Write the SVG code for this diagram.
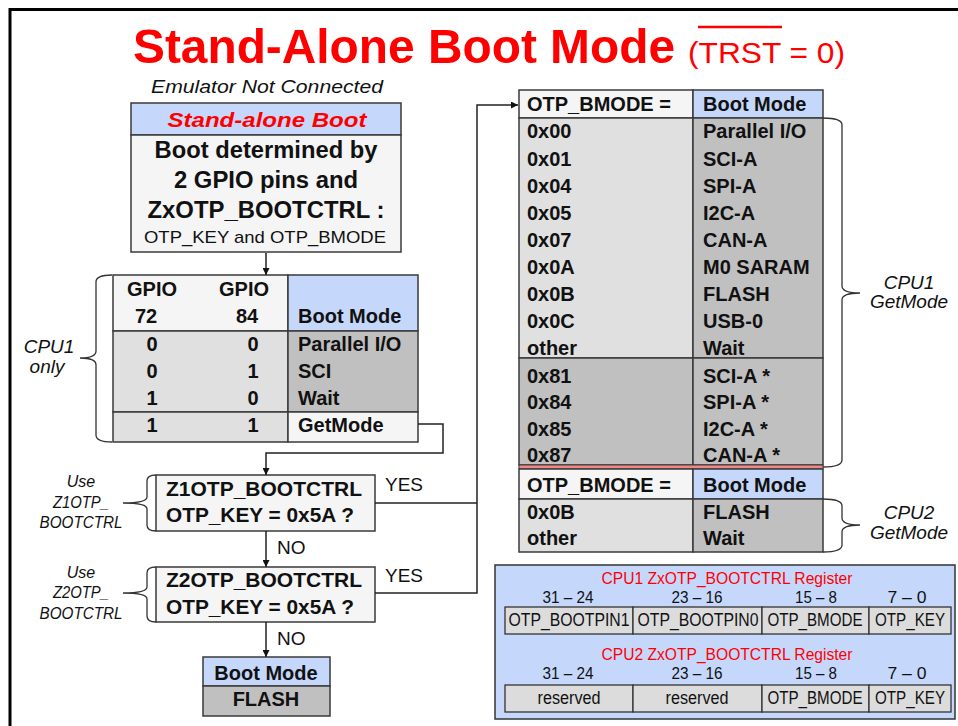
<svg xmlns="http://www.w3.org/2000/svg" width="958" height="726" viewBox="0 0 958 726">
<style>
text{font-family:"Liberation Sans",Arial,sans-serif;fill:#111}
.b{font-weight:bold}
.i{font-style:italic}
.c{text-anchor:middle}
.red{fill:#ff0000}
.cell{stroke:#3a3a3a;stroke-width:1.5}
.blue{fill:#c5d8fc}
.lt{fill:#f5f5f5}
.g1{fill:#e0e0e0}
.g2{fill:#c0c0c0}
.rg{fill:#dcdcdc;stroke:#333;stroke-width:1.3}
.conn{fill:none;stroke:#222;stroke-width:1.5}
.brace{fill:none;stroke:#333;stroke-width:1.3}
.t20{font-size:20px}
.t21{font-size:21px}
.reg{font-size:18px}
.rt{font-size:16px}
.bits{font-size:16px}
</style>
<defs>
<marker id="ah" viewBox="0 0 10 10" refX="10" refY="5" markerWidth="7" markerHeight="7" markerUnits="userSpaceOnUse" orient="auto"><path d="M0,0 L10,5 L0,10 z" fill="#111"/></marker>
</defs>

<path d="M10,726 L10,9.5 L958,9.5" fill="none" stroke="#000" stroke-width="3"/>

<g id="title">
<text x="133" y="63" font-size="49" class="b red" textLength="542" lengthAdjust="spacingAndGlyphs">Stand-Alone Boot Mode</text>
<text x="688" y="63" font-size="30" class="red" textLength="157" lengthAdjust="spacingAndGlyphs">(TRST = 0)</text>
<line x1="698" y1="27" x2="782" y2="27" stroke="#ff0000" stroke-width="2.5"/>
<text x="267" y="93" font-size="19" class="i c" textLength="232" lengthAdjust="spacingAndGlyphs">Emulator Not Connected</text>
</g>

<g id="standalone">
<rect x="131" y="103" width="270" height="32" class="cell blue"/>
<rect x="131" y="135" width="270" height="117" class="cell lt"/>
<text x="267" y="127" font-size="21" class="b i c red" textLength="199" lengthAdjust="spacingAndGlyphs">Stand-alone Boot</text>
<text x="266" y="158" font-size="23" class="b c" textLength="223" lengthAdjust="spacingAndGlyphs">Boot determined by</text>
<text x="266" y="188" font-size="23" class="b c" textLength="184" lengthAdjust="spacingAndGlyphs">2 GPIO pins and</text>
<text x="266" y="218" font-size="23" class="b c" textLength="237" lengthAdjust="spacingAndGlyphs">ZxOTP_BOOTCTRL :</text>
<text x="265" y="243" font-size="17" class="c" textLength="242" lengthAdjust="spacingAndGlyphs">OTP_KEY and OTP_BMODE</text>
</g>

<g id="gpio-table">
<rect x="113" y="275" width="175" height="56" class="cell lt"/>
<rect x="288" y="275" width="130" height="56" class="cell blue"/>
<rect x="113" y="331" width="175" height="81" class="cell g1"/>
<rect x="288" y="331" width="130" height="81" class="cell g2"/>
<rect x="113" y="412" width="175" height="30" class="cell g1"/>
<rect x="288" y="412" width="130" height="30" class="cell lt"/>
<g class="b t20">
<text x="152" y="296" class="c">GPIO</text>
<text x="146" y="323" class="c">72</text>
<text x="244" y="296" class="c">GPIO</text>
<text x="247" y="323" class="c">84</text>
<text x="298" y="323">Boot Mode</text>
<text x="152" y="351" class="c">0</text><text x="253" y="351" class="c">0</text><text x="298" y="351">Parallel I/O</text>
<text x="152" y="378" class="c">0</text><text x="253" y="378" class="c">1</text><text x="298" y="378">SCI</text>
<text x="152" y="405" class="c">1</text><text x="253" y="405" class="c">0</text><text x="298" y="405">Wait</text>
<text x="152" y="432" class="c">1</text><text x="253" y="432" class="c">1</text><text x="298" y="432">GetMode</text>
</g>
</g>

<g id="cpu1-only">
<path class="brace" d="M112,275 Q96,275 96,282 L96,351 Q96,358 80,358 Q96,358 96,365 L96,435 Q96,442 112,442"/>
<text x="49" y="353" font-size="19" class="i c">CPU1</text>
<text x="47" y="373" font-size="19" class="i c">only</text>
</g>

<g id="z1">
<rect x="156" y="475" width="219" height="56" class="cell lt"/>
<text x="264" y="496" class="b c t21" textLength="196" lengthAdjust="spacingAndGlyphs">Z1OTP_BOOTCTRL</text>
<text x="260" y="522" class="b c t21" textLength="188" lengthAdjust="spacingAndGlyphs">OTP_KEY = 0x5A ?</text>
<path class="brace" d="M156,475 Q147,475 147,481 L147,497 Q147,503 123,503 Q147,503 147,509 L147,525 Q147,531 156,531"/>
<text x="81" y="487" font-size="16" class="i c">Use</text>
<text x="81" y="508" font-size="16" class="i c" textLength="56" lengthAdjust="spacingAndGlyphs">Z1OTP_</text>
<text x="81" y="528" font-size="16" class="i c" textLength="83" lengthAdjust="spacingAndGlyphs">BOOTCTRL</text>
</g>

<g id="z2">
<rect x="156" y="567" width="219" height="55" class="cell lt"/>
<text x="264" y="587" class="b c t21" textLength="196" lengthAdjust="spacingAndGlyphs">Z2OTP_BOOTCTRL</text>
<text x="260" y="614" class="b c t21" textLength="188" lengthAdjust="spacingAndGlyphs">OTP_KEY = 0x5A ?</text>
<path class="brace" d="M156,567 Q147,567 147,573 L147,587 Q147,593 123,593 Q147,593 147,599 L147,616 Q147,622 156,622"/>
<text x="81" y="578" font-size="16" class="i c">Use</text>
<text x="81" y="598" font-size="16" class="i c" textLength="56" lengthAdjust="spacingAndGlyphs">Z2OTP_</text>
<text x="81" y="619" font-size="16" class="i c" textLength="83" lengthAdjust="spacingAndGlyphs">BOOTCTRL</text>
</g>

<g id="flash-box">
<rect x="203" y="657" width="127" height="29" class="cell blue"/>
<rect x="203" y="686" width="127" height="30" class="cell g2"/>
<text x="266" y="680" class="b c t20">Boot Mode</text>
<text x="266" y="706" class="b c t20">FLASH</text>
</g>

<g id="connectors">
<line x1="266" y1="253" x2="266" y2="275" class="conn" marker-end="url(#ah)"/>
<polyline points="418,424 443,424 443,453 266,453 266,475" class="conn" marker-end="url(#ah)"/>
<line x1="266" y1="531" x2="266" y2="567" class="conn" marker-end="url(#ah)"/>
<line x1="266" y1="622" x2="266" y2="657" class="conn" marker-end="url(#ah)"/>
<polyline points="375,503 477,503" class="conn"/>
<polyline points="375,593 477,593 477,105 518,105" class="conn" marker-end="url(#ah)"/>
<text x="385" y="491" font-size="19">YES</text>
<text x="385" y="582" font-size="19">YES</text>
<text x="277" y="554" font-size="19">NO</text>
<text x="277" y="645" font-size="19">NO</text>
</g>

<g id="bmode-table">
<rect x="519" y="90" width="174" height="28" class="cell lt"/>
<rect x="693" y="90" width="130" height="28" class="cell blue"/>
<rect x="519" y="118" width="174" height="240" class="cell g1"/>
<rect x="693" y="118" width="130" height="240" class="cell g2"/>
<rect x="519" y="358" width="174" height="107" class="cell g2"/>
<rect x="693" y="358" width="130" height="107" class="cell g2"/>
<rect x="519" y="465" width="304" height="4" fill="#f08888" stroke="#3a3a3a" stroke-width="1"/>
<rect x="519" y="469" width="174" height="30" class="cell lt"/>
<rect x="693" y="469" width="130" height="30" class="cell blue"/>
<rect x="519" y="499" width="174" height="53" class="cell g1"/>
<rect x="693" y="499" width="130" height="53" class="cell g2"/>
<g class="b t20">
<text x="527" y="111">OTP_BMODE =</text><text x="703" y="111">Boot Mode</text>
<text x="527" y="138">0x00</text><text x="703" y="138">Parallel I/O</text>
<text x="527" y="166">0x01</text><text x="703" y="166">SCI-A</text>
<text x="527" y="193">0x04</text><text x="703" y="193">SPI-A</text>
<text x="527" y="220">0x05</text><text x="703" y="220">I2C-A</text>
<text x="527" y="247">0x07</text><text x="703" y="247">CAN-A</text>
<text x="527" y="274">0x0A</text><text x="703" y="274">M0 SARAM</text>
<text x="527" y="301">0x0B</text><text x="703" y="301">FLASH</text>
<text x="527" y="328">0x0C</text><text x="703" y="328">USB-0</text>
<text x="527" y="355">other</text><text x="703" y="355">Wait</text>
<text x="527" y="383">0x81</text><text x="703" y="383">SCI-A *</text>
<text x="527" y="409">0x84</text><text x="703" y="409">SPI-A *</text>
<text x="527" y="436">0x85</text><text x="703" y="436">I2C-A *</text>
<text x="527" y="462">0x87</text><text x="703" y="462">CAN-A *</text>
<text x="527" y="492">OTP_BMODE =</text><text x="703" y="492">Boot Mode</text>
<text x="527" y="519">0x0B</text><text x="703" y="519">FLASH</text>
<text x="527" y="545">other</text><text x="703" y="545">Wait</text>
</g>
</g>

<g id="cpu1-getmode">
<path class="brace" d="M823,118 Q842,118 842,125 L842,286 Q842,293 860,293 Q842,293 842,300 L842,460 Q842,467 823,467"/>
<text x="909" y="289" font-size="19" class="i c">CPU1</text>
<text x="909" y="308" font-size="19" class="i c">GetMode</text>
</g>

<g id="cpu2-getmode">
<path class="brace" d="M823,499 Q842,499 842,506 L842,518 Q842,525 860,525 Q842,525 842,532 L842,545 Q842,552 823,552"/>
<text x="909" y="519" font-size="19" class="i c">CPU2</text>
<text x="909" y="539" font-size="19" class="i c">GetMode</text>
</g>

<g id="register-box">
<rect x="495" y="565" width="460" height="154" fill="#c5d8fc" stroke="#333" stroke-width="1.5"/>
<text x="727" y="584" class="rt c red" textLength="251" lengthAdjust="spacingAndGlyphs">CPU1 ZxOTP_BOOTCTRL Register</text>
<g class="bits c">
<text x="568" y="603" textLength="51" lengthAdjust="spacingAndGlyphs">31 – 24</text><text x="697" y="603" textLength="51" lengthAdjust="spacingAndGlyphs">23 – 16</text><text x="816" y="603" textLength="42" lengthAdjust="spacingAndGlyphs">15 – 8</text><text x="907" y="603" textLength="39" lengthAdjust="spacingAndGlyphs">7 – 0</text>
</g>
<rect x="505" y="607" width="128" height="27" class="rg"/>
<rect x="633" y="607" width="129" height="27" class="rg"/>
<rect x="762" y="607" width="107" height="27" class="rg"/>
<rect x="869" y="607" width="82" height="27" class="rg"/>
<g class="reg c">
<text x="569" y="626" textLength="121" lengthAdjust="spacingAndGlyphs">OTP_BOOTPIN1</text>
<text x="698" y="626" textLength="121" lengthAdjust="spacingAndGlyphs">OTP_BOOTPIN0</text>
<text x="815" y="626" textLength="95" lengthAdjust="spacingAndGlyphs">OTP_BMODE</text>
<text x="910" y="626" textLength="70" lengthAdjust="spacingAndGlyphs">OTP_KEY</text>
</g>
<text x="727" y="660" class="rt c red" textLength="251" lengthAdjust="spacingAndGlyphs">CPU2 ZxOTP_BOOTCTRL Register</text>
<g class="bits c">
<text x="568" y="679" textLength="51" lengthAdjust="spacingAndGlyphs">31 – 24</text><text x="697" y="679" textLength="51" lengthAdjust="spacingAndGlyphs">23 – 16</text><text x="816" y="679" textLength="42" lengthAdjust="spacingAndGlyphs">15 – 8</text><text x="907" y="679" textLength="39" lengthAdjust="spacingAndGlyphs">7 – 0</text>
</g>
<rect x="505" y="685" width="128" height="27" class="rg"/>
<rect x="633" y="685" width="129" height="27" class="rg"/>
<rect x="762" y="685" width="107" height="27" class="rg"/>
<rect x="869" y="685" width="82" height="27" class="rg"/>
<g class="reg c">
<text x="569" y="704" textLength="63" lengthAdjust="spacingAndGlyphs">reserved</text>
<text x="697" y="704" textLength="63" lengthAdjust="spacingAndGlyphs">reserved</text>
<text x="815" y="704" textLength="95" lengthAdjust="spacingAndGlyphs">OTP_BMODE</text>
<text x="910" y="704" textLength="70" lengthAdjust="spacingAndGlyphs">OTP_KEY</text>
</g>
</g>
</svg>
